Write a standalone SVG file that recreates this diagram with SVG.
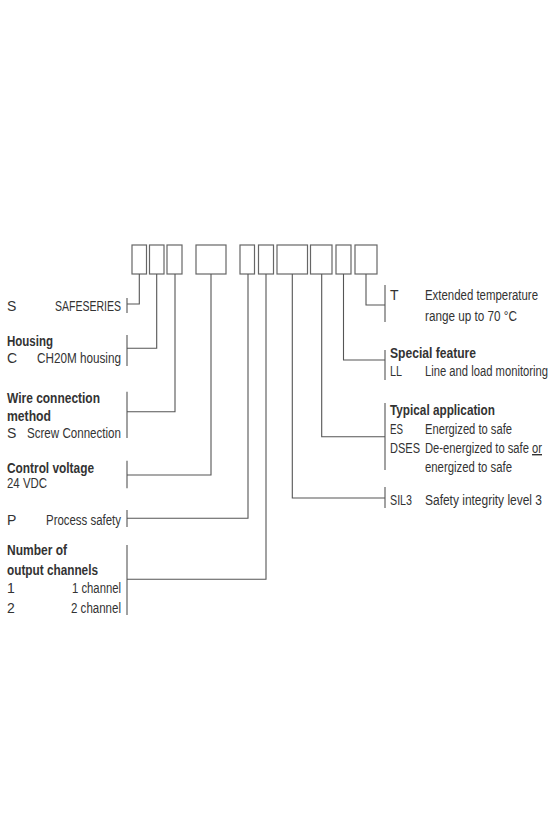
<svg xmlns="http://www.w3.org/2000/svg" width="560" height="840" viewBox="0 0 560 840">
<style>
.box{fill:#fff;stroke:#666;stroke-width:1.2}
.ln{fill:none;stroke:#555;stroke-width:1.1}
text{font-family:"Liberation Sans",Arial,sans-serif;font-size:14px;fill:#333}
.b{font-weight:bold}
.r{text-anchor:end}
</style>
<rect width="560" height="840" fill="#fff"/>
<g id="code-boxes">
<rect class="box" x="132" y="245" width="14.5" height="29"/>
<rect class="box" x="149.5" y="245" width="14.5" height="29"/>
<rect class="box" x="167" y="245" width="15" height="29"/>
<rect class="box" x="196" y="245" width="30" height="29"/>
<rect class="box" x="240" y="245" width="14.5" height="29"/>
<rect class="box" x="258.5" y="245" width="15" height="29"/>
<rect class="box" x="277" y="245" width="30.5" height="29"/>
<rect class="box" x="310.5" y="245" width="21.5" height="29"/>
<rect class="box" x="336" y="245" width="15" height="29"/>
<rect class="box" x="355" y="245" width="22" height="29"/>
</g>
<g id="connectors">
<path class="ln" d="M139.3 274V304H127M156.7 274V348.3H127M175 274V411.7H127M211 274V475H127M248 274V518.3H127M266 274V579.3H127"/>
<path class="ln" d="M292.3 274V498H385M321.7 274V436.7H385M343.5 274V360H385M366 274V305H385"/>
<path class="ln" d="M127 298V313M127 335V366M127 391.7V438M127 460.7V488.3M127 510V527M127 545V615"/>
<path class="ln" d="M385 285V322M385 350V380M385 403V470M385 487V508"/>
</g>
<g id="series">
<text x="7" y="311">S</text>
<text class="r" x="121" y="311" textLength="66" lengthAdjust="spacingAndGlyphs">SAFESERIES</text>
</g>
<g id="housing">
<text class="b" x="7" y="346" textLength="46" lengthAdjust="spacingAndGlyphs">Housing</text>
<text x="7" y="363">C</text>
<text class="r" x="121" y="363" textLength="84" lengthAdjust="spacingAndGlyphs">CH20M housing</text>
</g>
<g id="wire-connection">
<text class="b" x="7" y="403" textLength="93" lengthAdjust="spacingAndGlyphs">Wire connection</text>
<text class="b" x="7" y="421" textLength="44" lengthAdjust="spacingAndGlyphs">method</text>
<text x="7" y="438">S</text>
<text class="r" x="121" y="438" textLength="94" lengthAdjust="spacingAndGlyphs">Screw Connection</text>
</g>
<g id="control-voltage">
<text class="b" x="7" y="473" textLength="87" lengthAdjust="spacingAndGlyphs">Control voltage</text>
<text x="7" y="488" textLength="40" lengthAdjust="spacingAndGlyphs">24 VDC</text>
</g>
<g id="process-safety">
<text x="7" y="525">P</text>
<text class="r" x="121" y="525" textLength="75" lengthAdjust="spacingAndGlyphs">Process safety</text>
</g>
<g id="output-channels">
<text class="b" x="7" y="555" textLength="60" lengthAdjust="spacingAndGlyphs">Number of</text>
<text class="b" x="7" y="575" textLength="91" lengthAdjust="spacingAndGlyphs">output channels</text>
<text x="7" y="593">1</text>
<text class="r" x="121" y="593" textLength="49" lengthAdjust="spacingAndGlyphs">1 channel</text>
<text x="7" y="613">2</text>
<text class="r" x="121" y="613" textLength="50" lengthAdjust="spacingAndGlyphs">2 channel</text>
</g>
<g id="temperature">
<text x="390" y="300">T</text>
<text x="425" y="300" textLength="113" lengthAdjust="spacingAndGlyphs">Extended temperature</text>
<text x="425" y="321" textLength="92" lengthAdjust="spacingAndGlyphs">range up to 70 °C</text>
</g>
<g id="special-feature">
<text class="b" x="390" y="358" textLength="86" lengthAdjust="spacingAndGlyphs">Special feature</text>
<text x="390" y="375.5" textLength="12" lengthAdjust="spacingAndGlyphs">LL</text>
<text x="425" y="375.5" textLength="123" lengthAdjust="spacingAndGlyphs">Line and load monitoring</text>
</g>
<g id="typical-application">
<text class="b" x="390" y="415" textLength="105" lengthAdjust="spacingAndGlyphs">Typical application</text>
<text x="390" y="434" textLength="13" lengthAdjust="spacingAndGlyphs">ES</text>
<text x="425" y="434" textLength="87" lengthAdjust="spacingAndGlyphs">Energized to safe</text>
<text x="390" y="453" textLength="30" lengthAdjust="spacingAndGlyphs">DSES</text>
<text x="425" y="453" textLength="117" lengthAdjust="spacingAndGlyphs">De-energized to safe <tspan text-decoration="underline">or</tspan></text>
<text x="425" y="472" textLength="87" lengthAdjust="spacingAndGlyphs">energized to safe</text>
</g>
<g id="sil">
<text x="390" y="505" textLength="22" lengthAdjust="spacingAndGlyphs">SIL3</text>
<text x="425" y="505" textLength="117" lengthAdjust="spacingAndGlyphs">Safety integrity level 3</text>
</g>
</svg>
